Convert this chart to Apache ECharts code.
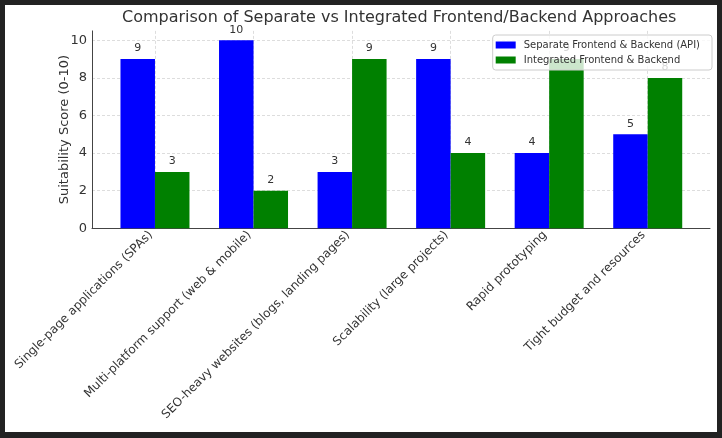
<!DOCTYPE html>
<html>
<head>
<meta charset="utf-8">
<script src="https://cdn.jsdelivr.net/npm/echarts@6/dist/echarts.min.js"></script>
<style>
  html, body { margin: 0; padding: 0; background: #222; }
  #chart { position: absolute; left: 5px; top: 5px; width: 712px; height: 427px; background: #fff; }
</style>
</head>
<body>
<div id="chart"></div>
<script>
var categories = [
  'Single-page applications (SPAs)',
  'Multi-platform support (web & mobile)',
  'SEO-heavy websites (blogs, landing pages)',
  'Scalability (large projects)',
  'Rapid prototyping',
  'Tight budget and resources'
];
var separateScores = [9, 10, 3, 9, 4, 5];
var integratedScores = [3, 2, 9, 4, 9, 8];
var seriesNames = ['Separate Frontend & Backend (API)', 'Integrated Frontend & Backend'];

var font = 'DejaVu Sans';
var txt = '#333';
var gridLineStyle = { color: '#d4d4d4', type: [3, 2], width: 0.8 };

var chart = echarts.init(document.getElementById('chart'));

chart.setOption({
  animation: false,
  textStyle: { fontFamily: font },
  title: {
    text: 'Comparison of Separate vs Integrated Frontend/Backend Approaches',
    left: 117,
    top: 5,
    padding: 0,
    textStyle: { fontSize: 16, fontWeight: 'normal', color: txt, fontFamily: font }
  },
  legend: {
    data: seriesNames,
    orient: 'vertical',
    right: 5,
    top: 30,
    icon: 'rect',
    itemWidth: 20,
    itemHeight: 7,
    itemGap: 3,
    padding: [4, 12, 4, 3],
    backgroundColor: 'rgba(255,255,255,0.8)',
    borderColor: '#ccc',
    borderWidth: 1,
    borderRadius: 3,
    textStyle: { fontSize: 10, color: txt, lineHeight: 12, fontFamily: font, padding: [0, 0, 0, 3] }
  },
  grid: [
    { left: 100.7, right: 20, top: 25.9, bottom: 203.7 },
    { left: 87, right: 7, top: 25.9, bottom: 203.7 }
  ],
  xAxis: [
    {
      type: 'category',
      gridIndex: 0,
      data: categories,
      axisLine: { show: false },
      axisTick: { show: false, alignWithLabel: true },
      splitLine: { show: true, alignWithLabel: true, lineStyle: gridLineStyle },
      axisLabel: { rotate: 45, margin: 9, verticalAlign: 'bottom', fontSize: 12, color: txt, fontFamily: font, interval: 0 }
    },
    {
      type: 'value',
      gridIndex: 1,
      min: 0,
      max: 1,
      axisLine: { show: true, lineStyle: { color: '#444', width: 1 } },
      axisTick: { show: false },
      axisLabel: { show: false },
      splitLine: { show: false }
    }
  ],
  yAxis: [
    {
      type: 'value',
      gridIndex: 0,
      min: 0,
      max: 10.5,
      show: false,
      splitLine: { show: false }
    },
    {
      type: 'value',
      gridIndex: 1,
      min: 0,
      max: 10.5,
      interval: 2,
      name: 'Suitability Score (0-10)',
      nameLocation: 'middle',
      nameGap: 21,
      nameMoveOverlap: false,
      nameTextStyle: { fontSize: 13, color: txt, fontFamily: font },
      axisLine: { show: true, lineStyle: { color: '#444', width: 1 } },
      axisTick: { show: false },
      axisLabel: { margin: 5, fontSize: 13, color: txt, fontFamily: font, showMaxLabel: false },
      splitLine: { show: true, showMaxLine: false, lineStyle: gridLineStyle }
    }
  ],
  series: [
    {
      name: seriesNames[0],
      type: 'bar',
      xAxisIndex: 0,
      yAxisIndex: 0,
      data: separateScores,
      barWidth: 34.5,
      barGap: '0%',
      itemStyle: { color: '#0000ff' },
      label: { show: true, position: 'top', distance: 5, fontSize: 11, color: txt, fontFamily: font }
    },
    {
      name: seriesNames[1],
      type: 'bar',
      xAxisIndex: 0,
      yAxisIndex: 0,
      data: integratedScores,
      barWidth: 34.5,
      barGap: '0%',
      itemStyle: { color: '#008000' },
      label: { show: true, position: 'top', distance: 5, fontSize: 11, color: txt, fontFamily: font }
    }
  ]
});
</script>
</body>
</html>
